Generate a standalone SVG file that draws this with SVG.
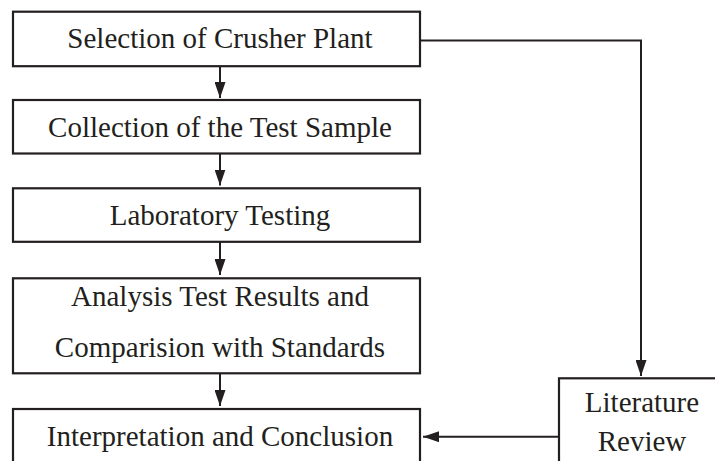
<svg xmlns="http://www.w3.org/2000/svg" width="715" height="461" viewBox="0 0 715 461">
  <style>
    .box { fill: #ffffff; stroke: #231f20; stroke-width: 2.2; }
    .lbl { font-family: "Liberation Serif", "Times New Roman", serif; font-size: 29px; fill: #231f20; text-anchor: middle; }
    .wire { fill: none; stroke: #231f20; stroke-width: 2; }
  </style>
  <defs>
    <marker id="head" markerUnits="userSpaceOnUse" markerWidth="16" markerHeight="11" refX="16" refY="5.5" orient="auto">
      <path d="M0,0 L16,5.5 L0,11 Z" fill="#231f20"/>
    </marker>
  </defs>

  <rect x="0" y="0" width="715" height="461" fill="#ffffff"/>

  <g id="connectors">
    <line class="wire" x1="220" y1="66" x2="220" y2="98" marker-end="url(#head)"/>
    <line class="wire" x1="220" y1="153.5" x2="220" y2="185.5" marker-end="url(#head)"/>
    <line class="wire" x1="220" y1="242" x2="220" y2="275" marker-end="url(#head)"/>
    <line class="wire" x1="220" y1="373.5" x2="220" y2="406" marker-end="url(#head)"/>
    <polyline class="wire" points="420,40.5 641,40.5 641,376" marker-end="url(#head)"/>
    <line class="wire" x1="559" y1="436.7" x2="423" y2="436.7" marker-end="url(#head)"/>
  </g>

  <g id="selection">
    <rect class="box" x="13" y="11.7" width="407" height="54.5"/>
    <text class="lbl" x="220" y="48.3">Selection of Crusher Plant</text>
  </g>

  <g id="collection">
    <rect class="box" x="13" y="100" width="407" height="53.5"/>
    <text class="lbl" x="220" y="136.5">Collection of the Test Sample</text>
  </g>

  <g id="laboratory">
    <rect class="box" x="13" y="188.3" width="407" height="53.5"/>
    <text class="lbl" x="220" y="225">Laboratory Testing</text>
  </g>

  <g id="analysis">
    <rect class="box" x="13" y="278.3" width="407" height="95"/>
    <text class="lbl" x="220" y="306">Analysis Test Results and</text>
    <text class="lbl" x="220" y="357">Comparision with Standards</text>
  </g>

  <g id="interpretation">
    <rect class="box" x="13" y="409" width="407" height="70"/>
    <text class="lbl" x="220" y="446">Interpretation and Conclusion</text>
  </g>

  <g id="literature">
    <rect class="box" x="559" y="378.3" width="180" height="100"/>
    <text class="lbl" x="642" y="411.7">Literature</text>
    <text class="lbl" x="642" y="451">Review</text>
  </g>
</svg>
